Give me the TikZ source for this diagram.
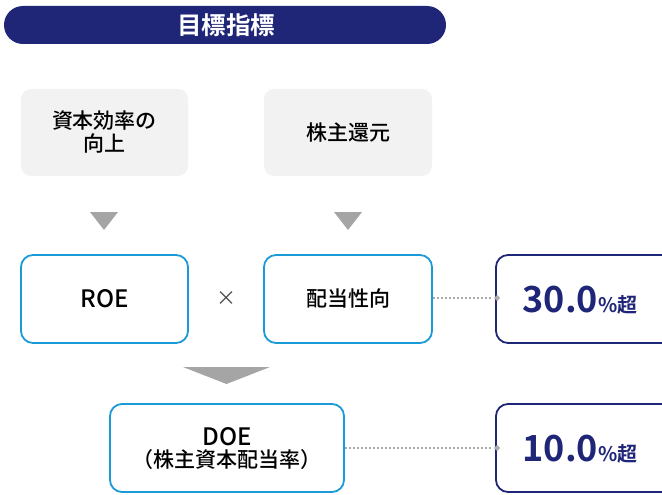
\documentclass[tikz,border=0pt]{standalone}
\usepackage{fontspec}
\setmainfont{Noto Sans CJK JP}
\newfontfamily\jpbold{Noto Sans CJK JP Bold}
\newfontfamily\jpmed{Noto Sans CJK JP Medium}
\definecolor{navy}{HTML}{1F2577}
\definecolor{skyblue}{HTML}{1A9AD6}
\definecolor{lightgray}{HTML}{F2F2F2}
\definecolor{trigray}{HTML}{A5A5A5}
\definecolor{dotgray}{HTML}{ABABAB}
\begin{document}
\begin{tikzpicture}[x=1pt,y=-1pt,
  graybox/.style={fill=lightgray,rounded corners=10pt,draw=none},
  bluebox/.style={draw=skyblue,line width=1.8pt,rounded corners=12pt,fill=white},
  navybox/.style={draw=navy,line width=1.8pt,rounded corners=12pt,fill=white},
  lbl/.style={font=\jpmed\fontsize{21}{26}\selectfont,align=center,text=black},
  lat/.style={font=\jpmed\fontsize{24}{28}\selectfont,align=center,text=black},
  tri/.style={fill=trigray,draw=none},
  dotline/.style={draw=dotgray,line width=1.8pt,dash pattern=on 1.8pt off 2.2pt},
  ]
\useasboundingbox (0,0) rectangle (662,495);
\clip (0,0) rectangle (662,495);
% header
\fill[navy,rounded corners=19pt] (4,6) rectangle (446,44);
\node[font=\jpbold\fontsize{24.5}{28}\selectfont,text=white] (hdr) at (226,25) {目標指標};
% gray boxes
\fill[graybox] (21,89) rectangle (188,176);
\node[lbl] (g1) at (104.5,132.5) {資本効率の\\[-3pt]向上};
\fill[graybox] (264,89) rectangle (432,176);
\node[lbl] (g2) at (348,132.5) {株主還元};
% small triangles
\fill[tri] (90,212) -- (118,212) -- (104,230) -- cycle;
\fill[tri] (334,212) -- (362,212) -- (348,230) -- cycle;
% middle row
\draw[bluebox] (21,255) rectangle (188,343);
\node[lat] (roe) at (104.5,299) {ROE};
\node[font=\fontsize{20}{22}\selectfont,text=black!70] (times) at (226,299) {×};
\draw[bluebox] (264,255) rectangle (432,343);
\node[lbl] (payout) at (348,299) {配当性向};
\draw[navybox] (496,255) rectangle (680,343);
\coordinate (t1) at (496,299);
\node[text=navy] (v1) at (580,300) {\jpbold\fontsize{36}{40}\selectfont 30.0\fontsize{20}{24}\selectfont\%超};
% big triangle
\fill[tri] (183,367) -- (270,367) -- (226.5,384) -- cycle;
% bottom row
\draw[bluebox] (110,404) rectangle (344,492);
\node[lbl,align=center] (doe) at (227,449) {{\fontsize{24}{26}\selectfont DOE}\\[-4pt]（株主資本配当率）};
\draw[navybox] (496,404) rectangle (680,492);
\coordinate (t2) at (496,448);
\node[text=navy] (v2) at (580,449) {\jpbold\fontsize{36}{40}\selectfont 10.0\fontsize{20}{24}\selectfont\%超};
% dotted connectors
\draw[dotline] (433,298) -- (491,298);
\fill[dotgray] (494,298) -- (497,295) -- (500,298) -- (497,301) -- cycle;
\draw[dotline] (345,448) -- (491,448);
\fill[dotgray] (494,448) -- (497,445) -- (500,448) -- (497,451) -- cycle;
\end{tikzpicture}
\end{document}
